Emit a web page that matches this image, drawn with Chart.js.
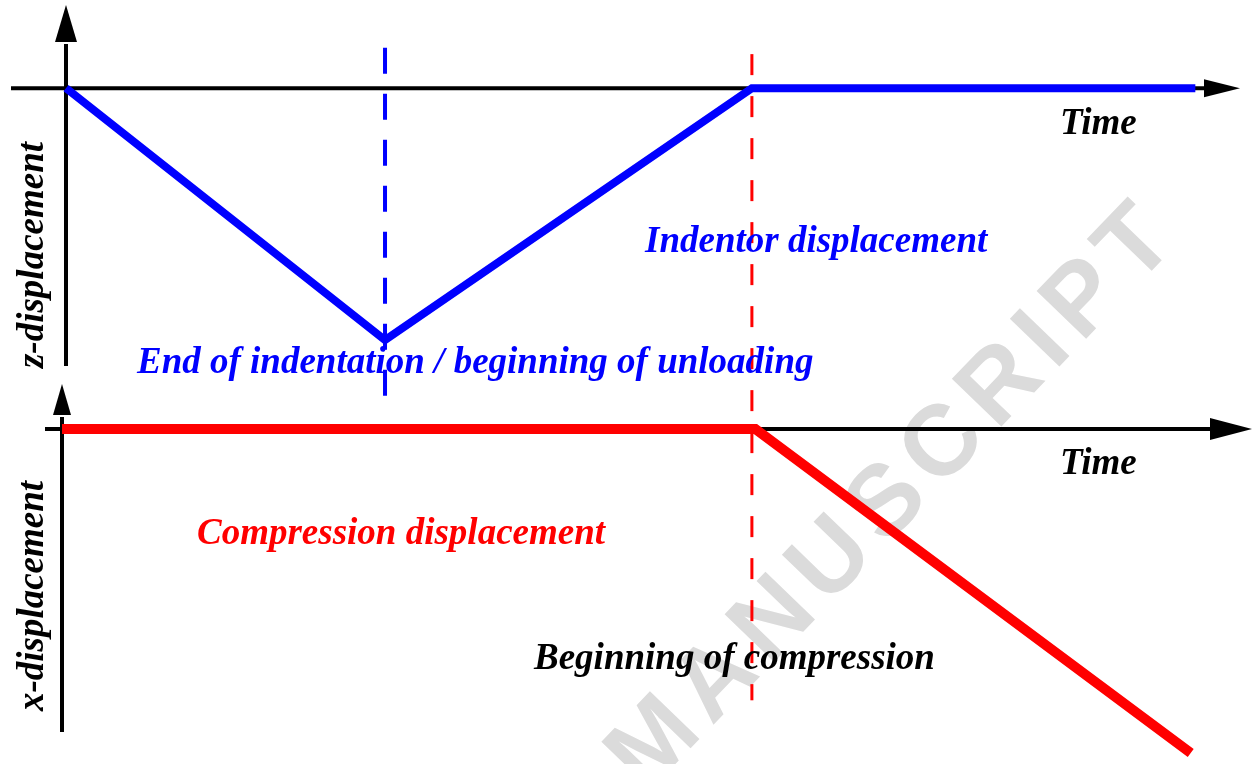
<!DOCTYPE html>
<html>
<head>
<meta charset="utf-8">
<script src="https://cdn.jsdelivr.net/npm/chart.js@4.4.0/dist/chart.umd.min.js"></script>
<style>
  html, body { margin: 0; padding: 0; background: #fff; }
  #wrap { position: relative; width: 1253px; height: 764px; overflow: hidden; }
  #wrap canvas { position: absolute; left: 0; top: 0; }
</style>
</head>
<body>
<div id="wrap">
  <canvas id="zChart" width="1253" height="764"></canvas>
  <canvas id="xChart" width="1253" height="764"></canvas>
</div>
<script>
// loading history, arbitrary time units
const zTime = [0, 1, 2.15, 3.54];
const zDisp = [0, -1, 0, 0];
const xTime = [0, 2.15, 3.5];
const xDisp = [0, 0, -1];

// event markers (time, and top/bottom extent in z units)
const endIndentTime = 1;
const endIndentSpan = [0.16, -1.26];
const startCompTime = 2.15;
const startCompSpan = [0.135, -2.43];

const BLUE = '#0000ff';
const RED = '#ff0000';
const LABEL_FONT = 'bold italic 37px "Liberation Serif", "Times New Roman", serif';

const toPoints = (xs, ys) => xs.map((t, i) => ({ x: t, y: ys[i] }));

// black axes with filled arrow heads
const arrowAxes = {
  id: 'arrowAxes',
  beforeDatasetsDraw(chart, args, opts) {
    const { ctx, chartArea: a, scales: { x, y } } = chart;
    const x0 = x.getPixelForValue(0), y0 = y.getPixelForValue(0);
    const [hl, hw] = opts.xHead, [vl, vw] = opts.yHead;
    ctx.save();
    ctx.strokeStyle = '#000';
    ctx.fillStyle = '#000';
    ctx.lineWidth = 4;
    ctx.beginPath();
    ctx.moveTo(opts.xFrom, y0);
    ctx.lineTo(a.right - hl + 1, y0);
    ctx.stroke();
    ctx.beginPath();
    ctx.moveTo(a.right, y0);
    ctx.lineTo(a.right - hl, y0 - hw);
    ctx.lineTo(a.right - hl, y0 + hw);
    ctx.closePath();
    ctx.fill();
    ctx.beginPath();
    ctx.moveTo(x0, a.top + vl + 2);
    ctx.lineTo(x0, a.bottom);
    ctx.stroke();
    ctx.beginPath();
    ctx.moveTo(x0, a.top);
    ctx.lineTo(x0 - vw, a.top + vl);
    ctx.lineTo(x0 + vw, a.top + vl);
    ctx.closePath();
    ctx.fill();
    ctx.restore();
  }
};

// faint diagonal watermark behind everything
const watermark = {
  id: 'watermark',
  beforeDatasetsDraw(chart, args, opts) {
    if (!opts.text) return;
    const ctx = chart.ctx;
    ctx.save();
    ctx.translate(opts.cx, opts.cy);
    ctx.rotate(opts.angle * Math.PI / 180);
    ctx.font = opts.font;
    ctx.letterSpacing = opts.spacing;
    ctx.fillStyle = opts.color;
    ctx.textAlign = 'center';
    ctx.textBaseline = 'alphabetic';
    ctx.fillText(opts.text, 0, opts.capHalf);
    ctx.restore();
  }
};

// annotation texts
const notes = {
  id: 'notes',
  afterDraw(chart, args, opts) {
    const ctx = chart.ctx;
    ctx.save();
    ctx.font = LABEL_FONT;
    ctx.textBaseline = 'alphabetic';
    (opts.items || []).forEach(n => {
      ctx.fillStyle = n.color;
      if (n.rotate) {
        ctx.save();
        ctx.translate(n.x, n.y);
        ctx.rotate(-Math.PI / 2);
        ctx.textAlign = 'center';
        ctx.fillText(n.text, 0, 0);
        ctx.restore();
      } else {
        ctx.textAlign = 'left';
        ctx.fillText(n.text, n.x, n.y);
      }
    });
    ctx.restore();
  }
};

const baseOptions = (xmin, xmax, ymin, ymax, padding) => ({
  responsive: false,
  animation: false,
  events: [],
  layout: { padding },
  scales: {
    x: { type: 'linear', min: xmin, max: xmax, display: false },
    y: { min: ymin, max: ymax, display: false }
  }
});

// top panel: z-displacement of the indentor
const zOpts = baseOptions(0, 3.68, -1.103, 0.33, { left: 66, right: 13, top: 5, bottom: 398 });
zOpts.plugins = {
  legend: { display: false },
  tooltip: { enabled: false },
  arrowAxes: { xFrom: 11, xHead: [36, 9], yHead: [37, 11] },
  watermark: {
    text: 'MANUSCRIPT', cx: 890, cy: 490, angle: -46,
    font: 'bold 100px "Liberation Sans", Arial, sans-serif', spacing: '11px',
    capHalf: 36, color: '#dbdbdb'
  },
  notes: {
    items: [
      { text: 'Time', x: 1060, y: 134, color: '#000' },
      { text: 'Indentor displacement', x: 645, y: 252, color: BLUE },
      { text: 'End of indentation / beginning of unloading', x: 137, y: 373, color: BLUE },
      { text: 'z-displacement', x: 43, y: 255, color: '#000', rotate: true }
    ]
  }
};

new Chart(document.getElementById('zChart'), {
  type: 'line',
  data: {
    datasets: [
      {
        label: 'Beginning of compression',
        data: toPoints([startCompTime, startCompTime], startCompSpan),
        borderColor: RED, borderWidth: 3, borderDash: [21, 21],
        pointRadius: 0, clip: false
      },
      {
        label: 'Indentor displacement',
        data: toPoints(zTime, zDisp),
        borderColor: BLUE, borderWidth: 8,
        borderJoinStyle: 'miter', borderCapStyle: 'butt',
        pointRadius: 0, clip: false
      },
      {
        label: 'End of indentation',
        data: toPoints([endIndentTime, endIndentTime], endIndentSpan),
        borderColor: BLUE, borderWidth: 4, borderDash: [26, 20],
        pointRadius: 0, clip: false
      }
    ]
  },
  options: zOpts,
  plugins: [watermark, arrowAxes, notes]
});

// bottom panel: x-displacement (compression)
const xOpts = baseOptions(0, 3.69, -0.935, 0.139, { left: 62, right: 1, top: 384, bottom: 32 });
xOpts.plugins = {
  legend: { display: false },
  tooltip: { enabled: false },
  arrowAxes: { xFrom: 45, xHead: [42, 11], yHead: [31, 9] },
  notes: {
    items: [
      { text: 'Time', x: 1060, y: 474, color: '#000' },
      { text: 'Compression displacement', x: 197, y: 544, color: RED },
      { text: 'Beginning of compression', x: 534, y: 669, color: '#000' },
      { text: 'x-displacement', x: 43, y: 596, color: '#000', rotate: true }
    ]
  }
};

new Chart(document.getElementById('xChart'), {
  type: 'line',
  data: {
    datasets: [
      {
        label: 'Compression displacement',
        data: toPoints(xTime, xDisp),
        borderColor: RED, borderWidth: 10,
        borderJoinStyle: 'miter', borderCapStyle: 'butt',
        pointRadius: 0, clip: false
      }
    ]
  },
  options: xOpts,
  plugins: [arrowAxes, notes]
});
</script>
</body>
</html>
